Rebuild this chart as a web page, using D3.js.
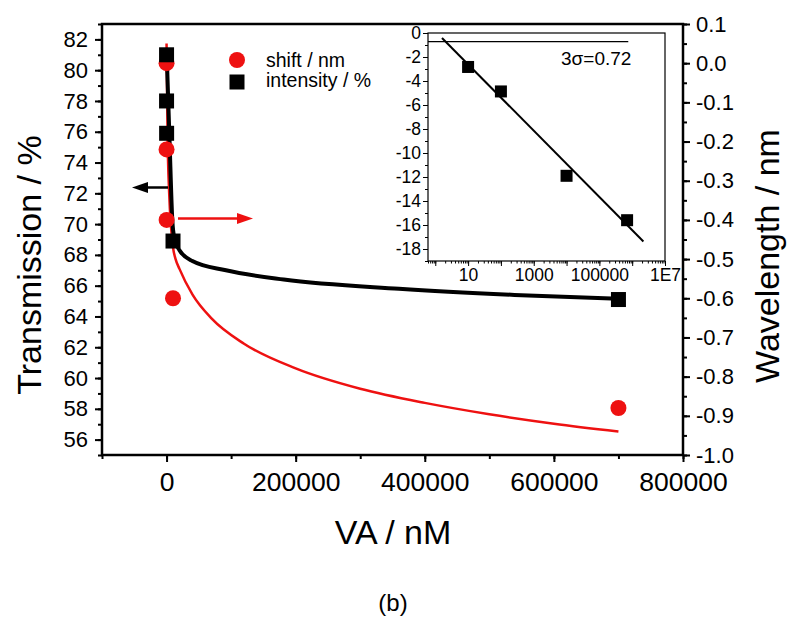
<!DOCTYPE html>
<html><head><meta charset="utf-8">
<script src="https://cdn.jsdelivr.net/npm/d3@7"></script>
<style>body{margin:0;background:#fff}svg{display:block}text{font-family:"Liberation Sans",Arial,sans-serif}</style>
</head><body>
<svg id="c" width="800" height="630"></svg>
<script>
// ---- data ----
const concentration = [0, 10, 100, 10000, 700000];
const intensity = [81.0, 78.0, 75.9, 68.9, 65.1];
const shift = [0.0, -0.22, -0.40, -0.60, -0.88];
const intensityFitX = [0, 4500, 9000, 12000, 20000, 40000, 92000, 181500, 360000, 539000, 700000];
const intensityFitY = [81.3, 75.6, 70.2, 69.1, 68.3, 67.6, 67.0, 66.4, 65.8, 65.4, 65.15];
const shiftFitX = [0, 1500, 4000, 7000, 10000, 14000, 20000, 40000, 70000, 120000, 200000, 300000, 400000, 500000, 600000, 700000];
const shiftFitY = [0.05, -0.18, -0.33, -0.42, -0.47, -0.50, -0.525, -0.59, -0.652, -0.716, -0.779, -0.831, -0.867, -0.896, -0.92, -0.94];
const insetConc = [10, 100, 10000, 700000];
const insetChange = [-2.83, -4.87, -11.9, -15.6];
const insetFitX = [1.6, 2.2e6];
const insetFitY = [-0.42, -17.37];
const sigmaX = [0.6, 7.6e5];
const sigmaY = [-0.72, -0.72];
const xTicks = [0, 200000, 400000, 600000, 800000];
const leftTicks = d3.range(56, 83, 2);
const rightTicks = d3.range(1, -11, -1).map(d => d / 10);
const insetYTicks = d3.range(0, -19, -2);
const insetXTicks = [10, 1000, 100000, 1e7];
const insetXLabels = ["10", "1000", "100000", "1E7"];
const legendLabels = ["shift / nm", "intensity / %"];

// ---- layout ----
const svg = d3.select("#c");
const L = 102, R = 683, T = 24, B = 455;
const x = d3.scaleLinear().domain([-100000, 800000]).range([L, R]);
const yL = d3.scaleLinear().domain([55, 83]).range([B, T]);
const yR = d3.scaleLinear().domain([-1.0, 0.1]).range([B, T]);
const hy = v => (v < 0 ? "-" : "") + Math.abs(v).toFixed(1);

function styleAxis(g, fs) {
  g.select(".domain").remove();
  g.selectAll("line").attr("stroke", "#000").attr("stroke-width", 2);
  g.selectAll("text").attr("font-size", fs).attr("fill", "#000").attr("font-family", "'Liberation Sans',Arial,sans-serif");
}
// minor ticks
const gx = svg.append("g").attr("transform", `translate(0,${B})`);
gx.call(d3.axisBottom(x).tickValues(d3.range(-100000, 800001, 100000)).tickSize(4).tickFormat(""));
styleAxis(gx, 0);
const gx2 = svg.append("g").attr("transform", `translate(0,${B})`);
gx2.call(d3.axisBottom(x).tickValues(xTicks).tickSize(7).tickPadding(10).tickFormat(d3.format("d")));
styleAxis(gx2, 26.5);

const gl = svg.append("g").attr("transform", `translate(${L},0)`);
gl.call(d3.axisLeft(yL).tickValues(d3.range(55, 83.01, 1)).tickSize(4).tickFormat(""));
styleAxis(gl, 0);
const gl2 = svg.append("g").attr("transform", `translate(${L},0)`);
gl2.call(d3.axisLeft(yL).tickValues(leftTicks).tickSize(7).tickPadding(7).tickFormat(d3.format("d")));
styleAxis(gl2, 22);

const gr = svg.append("g").attr("transform", `translate(${R},0)`);
gr.call(d3.axisRight(yR).tickValues(d3.range(-20, 3, 1).map(d => d / 20)).tickSize(4).tickFormat(""));
styleAxis(gr, 0);
const gr2 = svg.append("g").attr("transform", `translate(${R},0)`);
gr2.call(d3.axisRight(yR).tickValues(rightTicks).tickSize(7).tickPadding(6).tickFormat(hy));
styleAxis(gr2, 22);

// frame
svg.append("rect").attr("x", L).attr("y", T).attr("width", R - L).attr("height", B - T)
  .attr("fill", "none").attr("stroke", "#000").attr("stroke-width", 2.5);

// axis titles
svg.append("text").attr("transform", `translate(41,265) rotate(-90)`).attr("text-anchor", "middle")
  .attr("font-size", 34).text("Transmission / %");
svg.append("text").attr("transform", `translate(779,256) rotate(-90)`).attr("text-anchor", "middle")
  .attr("font-size", 34).text("Wavelength / nm");
svg.append("text").attr("x", 393).attr("y", 544).attr("text-anchor", "middle").attr("font-size", 34).text("VA / nM");
svg.append("text").attr("x", 393).attr("y", 611).attr("text-anchor", "middle").attr("font-size", 24)
  .attr("font-family", "'Liberation Serif','Times New Roman',serif").text("(b)");

// fit curves
const redLine = d3.line().x(d => x(d[0])).y(d => yR(d[1])).curve(d3.curveMonotoneX);
const blackLine = d3.line().x(d => x(d[0])).y(d => yL(d[1])).curve(d3.curveMonotoneX);
svg.append("path").attr("d", redLine(d3.zip(shiftFitX, shiftFitY))).attr("fill", "none")
  .attr("stroke", "#ee1111").attr("stroke-width", 2.5);
svg.append("path").attr("d", blackLine(d3.zip(intensityFitX, intensityFitY))).attr("fill", "none")
  .attr("stroke", "#000").attr("stroke-width", 4);

// markers
svg.append("g").selectAll("circle").data(d3.zip(concentration, shift)).join("circle")
  .attr("cx", d => x(d[0])).attr("cy", d => yR(d[1])).attr("r", 8).attr("fill", "#ee1111");
svg.append("g").selectAll("rect").data(d3.zip(concentration, intensity)).join("rect")
  .attr("x", d => x(d[0]) - 7.5).attr("y", d => yL(d[1]) - 7.5)
  .attr("width", 15).attr("height", 15).attr("fill", "#000");

// arrows
function arrow(x1, x2, y, col) {
  const dir = Math.sign(x2 - x1);
  svg.append("line").attr("x1", x1).attr("x2", x2 - dir * 12).attr("y1", y).attr("y2", y)
    .attr("stroke", col).attr("stroke-width", 2.5);
  svg.append("path").attr("d", `M${x2},${y} L${x2 - dir * 16},${y - 5.5} L${x2 - dir * 16},${y + 5.5} Z`).attr("fill", col);
}
arrow(168, 132, 187.5, "#000");
arrow(178, 253, 218.5, "#ee1111");

// legend
svg.append("circle").attr("cx", 237).attr("cy", 60).attr("r", 8).attr("fill", "#ee1111");
svg.append("rect").attr("x", 229.5).attr("y", 74.5).attr("width", 15).attr("height", 15).attr("fill", "#000");
svg.append("text").attr("x", 266).attr("y", 66.5).attr("font-size", 19.5).text(legendLabels[0]);
svg.append("text").attr("x", 266).attr("y", 87).attr("font-size", 19.5).text(legendLabels[1]);

// ---- inset ----
const iL = 428, iR = 665, iT = 33, iB = 261;
const ix = d3.scaleLog().domain([0.6, 1e7]).range([iL, iR]);
const iy = d3.scaleLinear().domain([-19, 0]).range([iB, iT]);
const ins = svg.append("g");
ins.append("rect").attr("x", iL).attr("y", iT).attr("width", iR - iL).attr("height", iB - iT)
  .attr("fill", "#fff").attr("stroke", "#000").attr("stroke-width", 1.2);
const minorLog = [];
for (let e = -1; e < 7; e++) for (let m = 1; m < 10; m++) { const v = m * Math.pow(10, e); if (v >= 0.6 && v <= 1e7) minorLog.push(v); }
const gix = ins.append("g").attr("transform", `translate(0,${iB})`);
gix.call(d3.axisBottom(ix).tickValues(minorLog).tickSize(2.5).tickFormat(""));
styleAxis(gix, 0); gix.selectAll("line").attr("stroke-width", 1);
const gix2 = ins.append("g").attr("transform", `translate(0,${iB})`);
gix2.call(d3.axisBottom(ix).tickValues([1, 10, 100, 1000, 1e4, 1e5, 1e6, 1e7]).tickSize(5).tickPadding(3)
  .tickFormat(d => { const i = insetXTicks.indexOf(d); return i >= 0 ? insetXLabels[i] : ""; }));
styleAxis(gix2, 17.5); gix2.selectAll("line").attr("stroke-width", 1);
const giy = ins.append("g").attr("transform", `translate(${iL},0)`);
giy.call(d3.axisLeft(iy).tickValues(d3.range(-19, 0.01, 1)).tickSize(3).tickFormat(""));
styleAxis(giy, 0); giy.selectAll("line").attr("stroke-width", 1);
const giy2 = ins.append("g").attr("transform", `translate(${iL},0)`);
giy2.call(d3.axisLeft(iy).tickValues(insetYTicks).tickSize(5).tickPadding(2).tickFormat(d => (d < 0 ? "-" : "") + Math.abs(d)));
styleAxis(giy2, 17.5); giy2.selectAll("line").attr("stroke-width", 1);

ins.append("path").attr("d", d3.line().x(d => ix(d[0])).y(d => iy(d[1]))(d3.zip(sigmaX, sigmaY)))
  .attr("stroke", "#000").attr("stroke-width", 1.3).attr("fill", "none");
ins.append("path").attr("d", d3.line().x(d => ix(d[0])).y(d => iy(d[1]))(d3.zip(insetFitX, insetFitY)))
  .attr("stroke", "#000").attr("stroke-width", 2).attr("fill", "none");
ins.append("g").selectAll("rect").data(d3.zip(insetConc, insetChange)).join("rect")
  .attr("x", d => ix(d[0]) - 6).attr("y", d => iy(d[1]) - 6).attr("width", 12).attr("height", 12).attr("fill", "#000");
ins.append("text").attr("x", 561).attr("y", 65).attr("font-size", 19).text("3σ=0.72");
</script>
</body></html>
